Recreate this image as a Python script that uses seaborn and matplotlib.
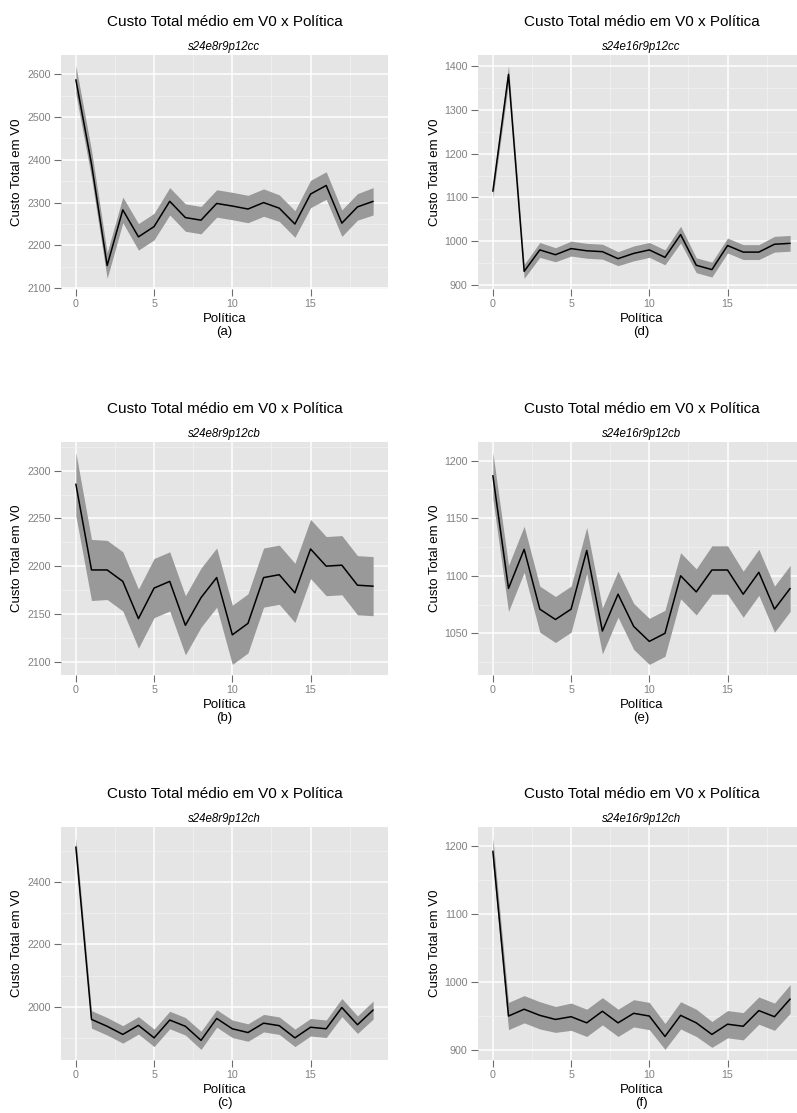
import numpy as np
import pandas as pd
import seaborn as sns
import matplotlib.pyplot as plt
from matplotlib.ticker import MultipleLocator

# Data
politica = np.arange(20)

custo_a = [2587, 2390, 2153, 2283, 2220, 2244, 2303, 2265, 2259, 2298,
           2292, 2285, 2300, 2287, 2250, 2320, 2340, 2252, 2290, 2303]
ic_a = [33, 32, 30, 30, 31, 31, 32, 32, 32, 32,
        32, 32, 32, 31, 31, 32, 32, 31, 31, 32]

custo_d = [1114, 1381, 931, 980, 969, 983, 978, 976, 960, 972,
           980, 963, 1015, 945, 935, 990, 975, 975, 993, 995]
ic_d = [15, 20, 16, 17, 16, 17, 17, 17, 16, 17,
        17, 17, 19, 17, 17, 17, 17, 17, 18, 18]

custo_b = [2286, 2196, 2196, 2184, 2145, 2177, 2184, 2138, 2167, 2188,
           2128, 2140, 2188, 2191, 2172, 2218, 2200, 2201, 2180, 2179]
ic_b = [33, 32, 31, 31, 31, 31, 31, 31, 31, 31,
        31, 31, 31, 31, 31, 31, 31, 31, 31, 31]

custo_e = [1187, 1089, 1123, 1071, 1062, 1071, 1122, 1052, 1084, 1056,
           1043, 1050, 1100, 1086, 1105, 1105, 1084, 1103, 1071, 1089]
ic_e = [20, 20, 20, 20, 20, 20, 20, 20, 20, 20,
        20, 20, 20, 20, 21, 21, 20, 20, 20, 20]

custo_c = [2512, 1960, 1938, 1912, 1941, 1901, 1958, 1938, 1893, 1963,
           1930, 1918, 1948, 1940, 1901, 1935, 1930, 1998, 1943, 1990]
ic_c = [30, 28, 28, 28, 28, 28, 28, 28, 29, 28,
        28, 28, 28, 28, 28, 28, 28, 29, 28, 29]

custo_f = [1192, 950, 960, 951, 945, 949, 940, 957, 940, 954,
           950, 920, 951, 940, 923, 938, 935, 958, 949, 975]
ic_f = [20, 20, 20, 20, 19, 20, 20, 20, 20, 20,
        20, 19, 20, 20, 19, 20, 20, 20, 20, 21]

titulo = "Custo Total médio em V0 x Política"
ylabel = "Custo Total em V0"
xlabel = "Política"

# letter, subtitle, mean, ci, y major step, col, row
paineis = [
    ("(a)", "s24e8r9p12cc", custo_a, ic_a, 100, 0, 0),
    ("(d)", "s24e16r9p12cc", custo_d, ic_d, 100, 1, 0),
    ("(b)", "s24e8r9p12cb", custo_b, ic_b, 50, 0, 1),
    ("(e)", "s24e16r9p12cb", custo_e, ic_e, 50, 1, 1),
    ("(c)", "s24e8r9p12ch", custo_c, ic_c, 200, 0, 2),
    ("(f)", "s24e16r9p12ch", custo_f, ic_f, 100, 1, 2),
]

sns.set_theme(style="darkgrid", rc={'axes.facecolor': '#E5E5E5',
                                    'grid.color': 'white'})
plt.rcParams['font.family'] = ['Liberation Sans', 'DejaVu Sans']

W, H = 797, 1113
fig = plt.figure(figsize=(W / 100, H / 100), dpi=100)
fig.patch.set_facecolor('white')

col_left = {0: 61, 1: 478}
row_tb = {0: (55, 289), 1: (442, 675), 2: (827, 1060)}
ylab_x = {0: 17, 1: 435}
panel_w = 327

for letra, sub, media, ic, passo, c, r in paineis:
    l = col_left[c]
    t, b = row_tb[r]
    ax = fig.add_axes([l / W, 1 - b / H, panel_w / W, (b - t) / H])

    media = np.array(media, dtype=float)
    ic = np.array(ic, dtype=float)
    lo, hi = media - ic, media + ic
    df = pd.DataFrame({'Politica': politica, 'Custo': media})

    ax.fill_between(politica, lo, hi, color='#999999', lw=0, zorder=2)
    sns.lineplot(data=df, x='Politica', y='Custo', color='black', lw=1.1,
                 ax=ax, zorder=3)

    ax.set_xlim(-0.95, 19.95)
    span = hi.max() - lo.min()
    ax.set_ylim(lo.min() - 0.05 * span, hi.max() + 0.05 * span)
    ax.xaxis.set_major_locator(MultipleLocator(5))
    ax.xaxis.set_minor_locator(MultipleLocator(2.5))
    ax.yaxis.set_major_locator(MultipleLocator(passo))
    ax.yaxis.set_minor_locator(MultipleLocator(passo / 2))
    ax.grid(which='major', color='white', lw=1.1)
    ax.grid(which='minor', color='#F2F2F2', lw=0.5)
    ax.set_axisbelow(True)
    for s in ax.spines.values():
        s.set_visible(False)
    ax.tick_params(which='major', length=5, width=0.8, color='#6E6E6E',
                   labelsize=7.7, labelcolor='#808080', pad=2.5,
                   bottom=True, left=True)
    ax.tick_params(which='minor', length=0)
    ax.set_xlabel('')
    ax.set_ylabel('')

    cx = (l + l + panel_w) / 2
    fig.text(cx / W, 1 - (t - 33) / H, titulo, ha='center', va='center',
             fontsize=11, color='black')
    fig.text(cx / W, 1 - (t - 8) / H, sub, ha='center', va='center',
             fontsize=8.3, style='italic', color='black')
    fig.text(cx / W, 1 - (b + 30) / H, xlabel, ha='center', va='center',
             fontsize=9.5, color='black')
    fig.text(cx / W, 1 - (b + 43) / H, letra, ha='center', va='center',
             fontsize=9.5, color='black')
    fig.text(ylab_x[c] / W, 1 - ((t + b) / 2) / H, ylabel, rotation=90,
             ha='center', va='center', fontsize=9.5, color='black')

fig.savefig("out.png", dpi=100)
